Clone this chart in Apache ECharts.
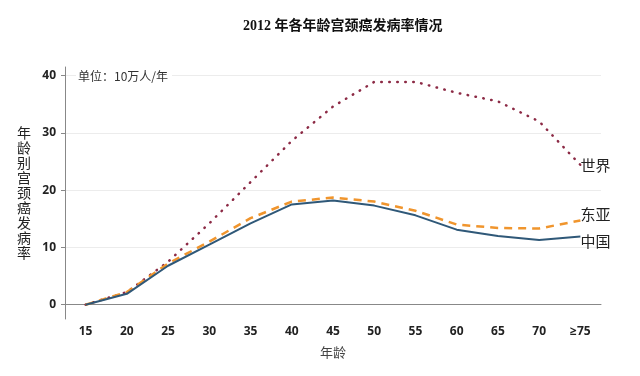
<!DOCTYPE html>
<html>
<head>
<meta charset="utf-8">
<script src="https://cdn.jsdelivr.net/npm/echarts@6/dist/echarts.min.js"></script>
<style>
  html, body { margin: 0; padding: 0; background: #fff; }
  #main { width: 640px; height: 376px; }
</style>
</head>
<body>
<div id="main"></div>
<script>
// 年龄组
var ages = ['15', '20', '25', '30', '35', '40', '45', '50', '55', '60', '65', '70', '≥75'];
// 发病率 (1/10万)
var china = [0, 1.9, 6.8, 10.5, 14.2, 17.5, 18.2, 17.3, 15.6, 13.1, 12.0, 11.3, 11.9];
var eastAsia = [0, 2.2, 7.2, 11.0, 15.1, 18.0, 18.7, 18.0, 16.4, 14.0, 13.4, 13.3, 14.7];
var world = [0, 2.2, 7.5, 14.2, 21.4, 28.6, 34.6, 38.9, 38.9, 37.0, 35.5, 32.0, 24.4];

var font = '"Noto Sans CJK SC", "Noto Sans", sans-serif';

var myChart = echarts.init(document.getElementById('main'));

function endLabel(dy) {
  return {
    show: true,
    formatter: '{a}',
    fontSize: 15,
    fontFamily: font,
    color: '#222',
    distance: 0,
    offset: [0, dy]
  };
}

var option = {
  backgroundColor: '#fff',
  animation: false,
  title: {
    text: '2012 年各年龄宫颈癌发病率情况',
    left: 238,
    top: 14,
    textStyle: {
      fontSize: 14,
      fontWeight: 'bold',
      color: '#111',
      fontFamily: '"Liberation Serif", "Noto Sans CJK SC", serif'
    }
  },
  grid: { left: 65, right: 39, top: 67, bottom: 57 },
  graphic: [{
    type: 'text',
    left: 76,
    top: 70,
    z: 10,
    style: {
      text: '单位：10万人/年',
      fontSize: 12,
      fontFamily: font,
      fill: '#333',
      backgroundColor: '#fff',
      padding: [0, 4, 0, 2]
    }
  }],
  xAxis: {
    type: 'category',
    data: ages,
    boundaryGap: true,
    name: '年龄',
    nameLocation: 'middle',
    nameGap: 27,
    nameTextStyle: { fontSize: 13, color: '#444', fontFamily: font },
    axisLine: { lineStyle: { color: '#888', width: 1 } },
    axisTick: { alignWithLabel: true, length: 4, lineStyle: { color: '#888' } },
    axisLabel: { fontSize: 12, fontWeight: 'bold', color: '#222', margin: 7, fontFamily: '"Open Sans", sans-serif' },
    splitLine: { show: false }
  },
  yAxis: {
    type: 'value',
    min: -2.5,
    max: 41.5,
    splitNumber: 4,
    name: '年\n龄\n别\n宫\n颈\n癌\n发\n病\n率',
    nameLocation: 'middle',
    nameRotate: 0,
    nameGap: 34,
    nameTextStyle: { fontSize: 14, color: '#222', lineHeight: 15, fontFamily: font },
    axisLine: { show: true, lineStyle: { color: '#888', width: 1 } },
    axisTick: { show: true, length: 4, lineStyle: { color: '#888' } },
    axisLabel: {
      fontSize: 12,
      fontWeight: 'bold',
      color: '#222',
      margin: 9,
      fontFamily: '"Open Sans", sans-serif',
      showMinLabel: false,
      showMaxLabel: false,
      formatter: function (v) { return v % 10 === 0 ? v : ''; }
    },
    splitLine: { show: true, showMinLine: false, showMaxLine: false, lineStyle: { color: '#ececec', width: 1 } }
  },
  series: [
    {
      name: '世界',
      type: 'line',
      data: world,
      symbol: 'none',
      z: 1,
      lineStyle: { color: '#8c2a45', width: 2.5, type: [0.5, 7.5], cap: 'round' },
      endLabel: endLabel(0)
    },
    {
      name: '东亚',
      type: 'line',
      data: eastAsia,
      symbol: 'none',
      z: 2,
      lineStyle: { color: '#f0952d', width: 2.5, type: [8, 6] },
      endLabel: endLabel(-6)
    },
    {
      name: '中国',
      type: 'line',
      data: china,
      symbol: 'none',
      z: 3,
      lineStyle: { color: '#2f5878', width: 2 },
      endLabel: endLabel(5)
    }
  ]
};

myChart.setOption(option);
</script>
</body>
</html>
